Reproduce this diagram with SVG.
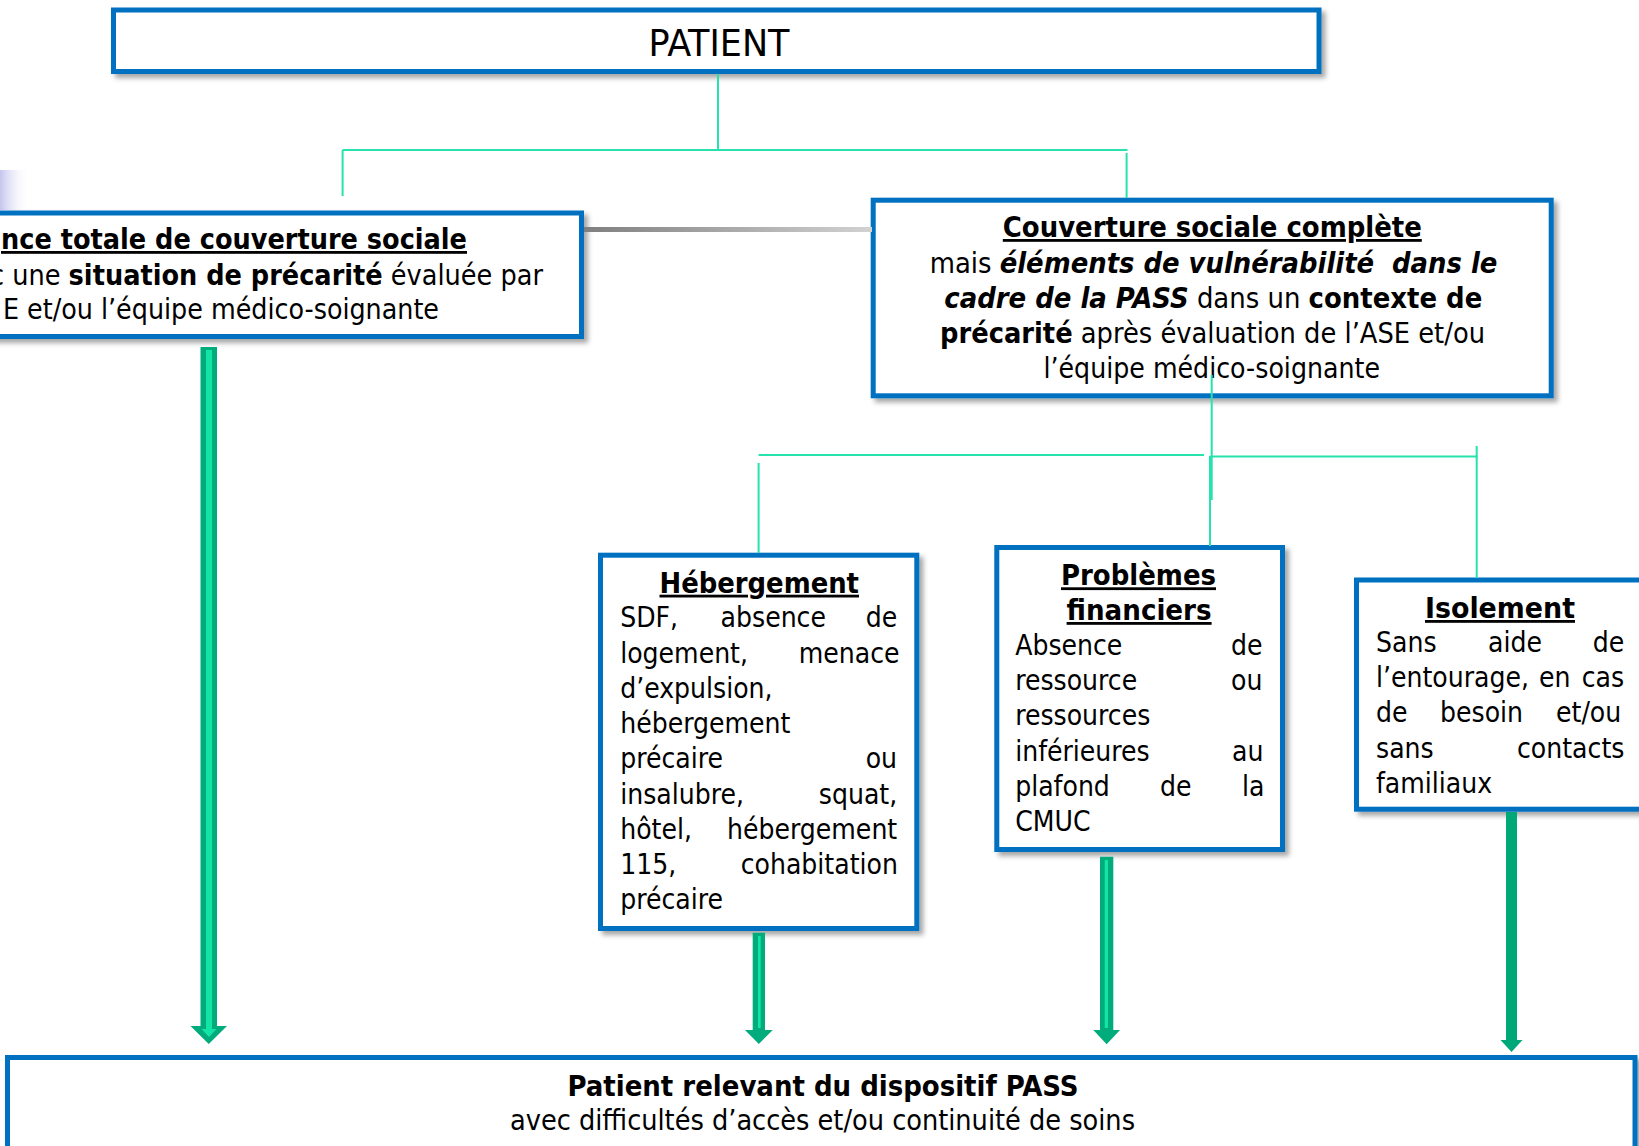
<svg xmlns="http://www.w3.org/2000/svg" width="1639" height="1146" viewBox="0 0 1639 1146">
<defs>
<style>
text { font-family: 'DejaVu Sans Condensed', 'DejaVu Sans', sans-serif; font-stretch: condensed; font-size: 28px; fill: #000; }
.b { font-weight: bold; }
.bi { font-weight: bold; font-style: italic; }
.u { text-decoration: underline; }
.box { fill: #fff; stroke: #0070C0; stroke-width: 5; filter: url(#sh); }
.con { stroke: #26E2AC; stroke-width: 2; fill: none; }
.ad { fill: #00AB7C; }
.al { fill: #14E3A6; }
</style>
<filter id="sh" x="-5%" y="-5%" width="115%" height="125%">
<feDropShadow dx="4" dy="4" stdDeviation="2.5" flood-color="#000" flood-opacity="0.35"/>
</filter>
<linearGradient id="gbar" x1="0" y1="0" x2="1" y2="0">
<stop offset="0" stop-color="#7f7f7f"/>
<stop offset="1" stop-color="#d2d2d2"/>
</linearGradient>
<linearGradient id="glav" x1="0" y1="0" x2="1" y2="0">
<stop offset="0" stop-color="#c4c4ee"/>
<stop offset="1" stop-color="#ffffff" stop-opacity="0"/>
</linearGradient>
</defs>
<rect width="1639" height="1146" fill="#fff"/>
<rect x="0" y="170" width="30" height="40" fill="url(#glav)"/>

<g id="patient">
<rect class="box" x="113.5" y="10" width="1205.5" height="61.5"/>
<text x="648.5" y="56" style="font-size:38px" textLength="141" lengthAdjust="spacingAndGlyphs">PATIENT</text>
</g>

<g id="absence">
<rect class="box" x="-20" y="213" width="601.5" height="123.5"/>
<text class="b u" x="1" y="249" textLength="466" lengthAdjust="spacingAndGlyphs">nce totale de couverture sociale</text>
<text x="-10" y="285" textLength="553" lengthAdjust="spacingAndGlyphs">c une <tspan class="b">situation de précarité</tspan> évaluée par</text>
<text x="3" y="319" textLength="436" lengthAdjust="spacingAndGlyphs">E et/ou l’équipe médico-soignante</text>
</g>

<g id="couverture">
<rect class="box" x="873.2" y="200.2" width="678" height="195.6"/>
<text class="b u" x="1002.8" y="237" textLength="419" lengthAdjust="spacingAndGlyphs">Couverture sociale complète</text>
<text x="929.7" y="272.7" textLength="567.7" lengthAdjust="spacingAndGlyphs" xml:space="preserve">mais <tspan class="bi">éléments de vulnérabilité  dans le</tspan></text>
<text x="944.3" y="308" textLength="538" lengthAdjust="spacingAndGlyphs"><tspan class="bi">cadre de la PASS</tspan> dans un <tspan class="b">contexte de</tspan></text>
<text x="940" y="343" textLength="545" lengthAdjust="spacingAndGlyphs"><tspan class="b">précarité</tspan> après évaluation de l’ASE et/ou</text>
<text x="1043.5" y="378" textLength="336.5" lengthAdjust="spacingAndGlyphs">l’équipe médico-soignante</text>
</g>

<g id="hebergement">
<rect class="box" x="600.5" y="555.2" width="316.3" height="373.3"/>
<text class="b u" x="659.5" y="592.7" textLength="199.5" lengthAdjust="spacingAndGlyphs">Hébergement</text>
<text y="627.3"><tspan x="620.2">SDF,</tspan><tspan x="720.6">absence</tspan><tspan x="865.7">de</tspan></text>
<text y="662.6"><tspan x="620.2">logement,</tspan><tspan x="798.7">menace</tspan></text>
<text x="620.2" y="697.8">d’expulsion,</text>
<text x="620.2" y="733.1">hébergement</text>
<text y="768.3"><tspan x="620.2">précaire</tspan><tspan x="865.7">ou</tspan></text>
<text y="803.6"><tspan x="620.2">insalubre,</tspan><tspan x="818.8">squat,</tspan></text>
<text y="838.8"><tspan x="620.2">hôtel,</tspan><tspan x="727">hébergement</tspan></text>
<text y="874.1"><tspan x="620.2">115,</tspan><tspan x="740.7">cohabitation</tspan></text>
<text x="620.2" y="909.3">précaire</text>
</g>

<g id="financiers">
<rect class="box" x="996.8" y="547.5" width="285.7" height="302"/>
<text class="b u" x="1061" y="585.3" textLength="155" lengthAdjust="spacingAndGlyphs">Problèmes</text>
<text class="b u" x="1066.6" y="620" textLength="145" lengthAdjust="spacingAndGlyphs">financiers</text>
<text y="655"><tspan x="1015.2">Absence</tspan><tspan x="1231">de</tspan></text>
<text y="690.2"><tspan x="1015.2">ressource</tspan><tspan x="1231">ou</tspan></text>
<text x="1015.2" y="725.4">ressources</text>
<text y="760.6"><tspan x="1015.2">inférieures</tspan><tspan x="1232">au</tspan></text>
<text y="795.8"><tspan x="1015.2">plafond</tspan><tspan x="1160">de</tspan><tspan x="1242">la</tspan></text>
<text x="1015.2" y="831">CMUC</text>
</g>

<g id="isolement">
<rect class="box" x="1356.5" y="580" width="300" height="229.2"/>
<text class="b u" x="1425" y="618" textLength="150" lengthAdjust="spacingAndGlyphs">Isolement</text>
<text y="652"><tspan x="1376">Sans</tspan><tspan x="1488">aide</tspan><tspan x="1592.7">de</tspan></text>
<text y="687.2"><tspan x="1376">l’entourage,</tspan><tspan x="1539">en</tspan><tspan x="1581.7">cas</tspan></text>
<text y="722.4"><tspan x="1376">de</tspan><tspan x="1440">besoin</tspan><tspan x="1556">et/ou</tspan></text>
<text y="757.6"><tspan x="1376">sans</tspan><tspan x="1517">contacts</tspan></text>
<text x="1376" y="792.8">familiaux</text>
</g>

<g id="pass">
<rect class="box" x="7.5" y="1057.5" width="1627.5" height="120"/>
<text class="b" x="567.5" y="1096" textLength="511" lengthAdjust="spacingAndGlyphs">Patient relevant du dispositif PASS</text>
<text x="510" y="1130" textLength="625" lengthAdjust="spacingAndGlyphs">avec difficultés d’accès et/ou continuité de soins</text>
</g>

<g id="connectors">
<rect x="584" y="227" width="288" height="5" fill="url(#gbar)"/>
<line class="con" x1="718" y1="74" x2="718" y2="151"/>
<line class="con" x1="342.6" y1="150" x2="1127.5" y2="150"/>
<line class="con" x1="342.6" y1="150" x2="342.6" y2="196"/>
<line class="con" x1="1126.6" y1="153" x2="1126.6" y2="198"/>
<line class="con" x1="1211.7" y1="375" x2="1211.7" y2="500"/>
<line class="con" x1="758.6" y1="455" x2="1204" y2="455"/>
<line class="con" x1="1212" y1="456.5" x2="1477.5" y2="456.5"/>
<line class="con" x1="1210" y1="455.7" x2="1210" y2="546"/>
<line class="con" x1="1476.7" y1="446" x2="1476.7" y2="578"/>
<line class="con" x1="758.6" y1="463" x2="758.6" y2="553"/>
<polygon class="ad" points="200.5,347 217,347 217,1026 227,1026 208.75,1044 190.5,1026 200.5,1026"/>
<polygon class="al" points="206,350 212,350 212,1029 216.5,1029 209,1037 201.5,1029 206,1029"/>
<polygon class="ad" points="752.7,932.7 765,932.7 765,1030 772.7,1030 758.85,1044 745,1030 752.7,1030"/>
<rect class="al" x="758" y="936" width="2.7" height="92"/>
<polygon class="ad" points="1100,856.7 1113.3,856.7 1113.3,1030 1120,1030 1106.65,1044.3 1093.3,1030 1100,1030"/>
<rect class="al" x="1104.7" y="860" width="3.3" height="168"/>
<polygon points="1506,812 1517,812 1517,1040 1522.5,1040 1511.5,1052 1500.5,1040 1506,1040" fill="#00A878"/>
</g>
</svg>
